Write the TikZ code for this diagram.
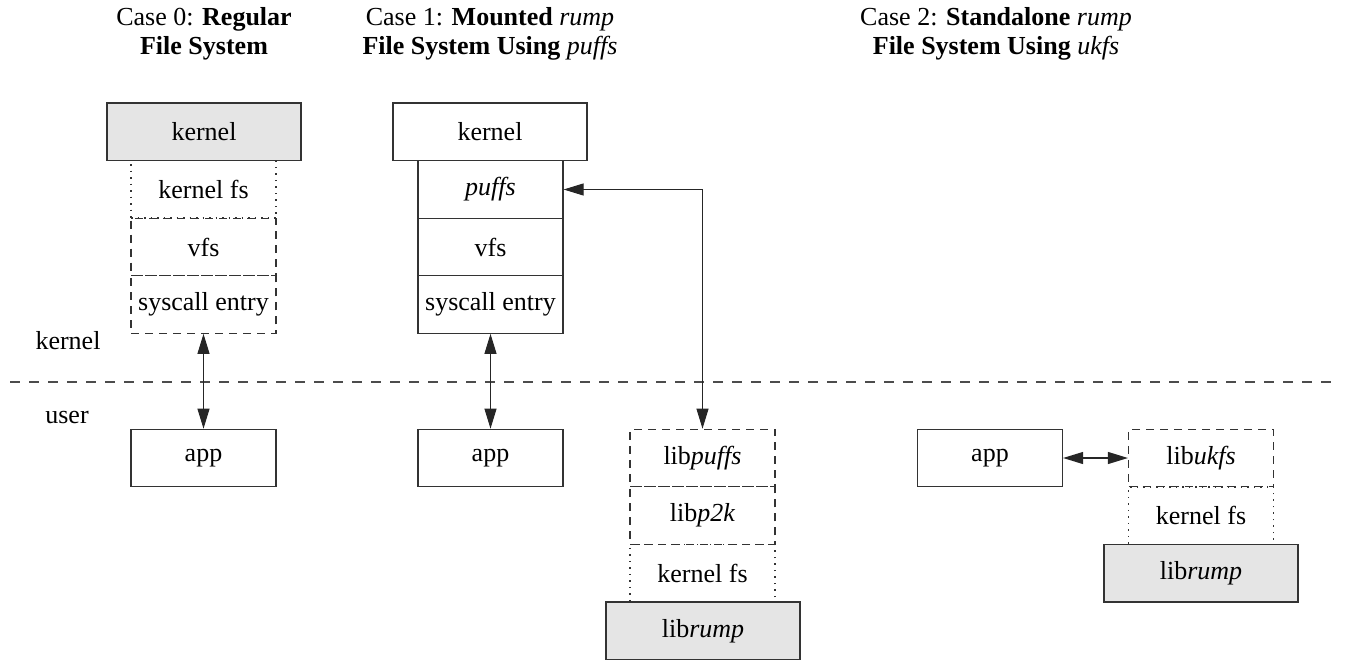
\documentclass[tikz,border=0pt]{standalone}
\usepackage{fontspec}
\setmainfont{Liberation Serif}
\usetikzlibrary{arrows.meta,positioning}

\begin{document}
\begin{tikzpicture}[
  x=1pt, y=-1pt,
  every node/.style={font=\fontsize{26}{29}\selectfont},
  layer/.style={draw=black!80, line width=1.2pt, inner sep=0pt, minimum width=145pt, minimum height=57.5pt, align=center},
  kbox/.style={layer, fill=black!10, minimum width=194pt},
  sbox/.style={layer},
  dbox/.style={layer, dash pattern=on 8pt off 6pt},
  obox/.style={layer, line width=1.5pt, dash pattern=on 1.5pt off 5pt},
  title/.style={align=center, inner sep=0pt},
  arrow/.style={{Triangle[length=20pt,width=12pt]}-{Triangle[length=20pt,width=12pt]}, line width=1.1pt, draw=black!85}
]
\useasboundingbox (0,0) rectangle (1348,660);

% Titles
\node[title] (title0) at (204,34) {Case 0: \textbf{Regular}\\\textbf{File System}};
\node[title] (title1) at (490,34) {Case 1: \textbf{Mounted} \textit{rump}\\\textbf{File System Using} \textit{puffs}};
\node[title] (title2) at (996,34) {Case 2: \textbf{Standalone} \textit{rump}\\\textbf{File System Using} \textit{ukfs}};

% Kernel/user boundary
\coordinate (sepL) at (10,382);
\coordinate (sepR) at (1338,382);
\draw[line width=1.1pt, draw=black!70, dash pattern=on 10pt off 9pt] (sepL) -- (sepR);
\node[inner sep=0pt] (klabel) at (68,341) {kernel};
\node[inner sep=0pt] (ulabel) at (67,417) {user};

% Case 0: regular file system
\node[obox] (kfs0) at (203.5,189.5) {kernel fs};
\node[kbox] (kern0) at (204,131.75) {kernel};
\node[dbox] (vfs0) at (203.5,247) {vfs};
\node[dbox] (sys0) at (203.5,304.5) {syscall entry};
\node[sbox] (app0) at (203.5,458) {app};

% Case 1: mounted rump file system using puffs
\node[sbox, minimum width=194pt] (kern1) at (490,131.75) {kernel};
\node[sbox] (puffs1) at (490.5,189.5) {\textit{puffs}};
\node[sbox] (vfs1) at (490.5,247) {vfs};
\node[sbox] (sys1) at (490.5,304.5) {syscall entry};
\node[sbox] (app1) at (490.5,458) {app};

\node[dbox] (libpuffs1) at (702.5,458) {lib\textit{puffs}};
\node[dbox] (libp2k1) at (702.5,515.5) {lib\textit{p2k}};
\node[obox] (kfs1) at (702.5,573) {kernel fs};
\node[kbox] (rump1) at (703,630.75) {lib\textit{rump}};

% Case 2: standalone rump file system using ukfs
\node[sbox] (app2) at (990,458) {app};
\node[dbox] (libukfs2) at (1201,458) {lib\textit{ukfs}};
\node[obox] (kfs2) at (1201,515.5) {kernel fs};
\node[kbox] (rump2) at (1201,573.25) {lib\textit{rump}};

% Connections
\draw[arrow] (sys0.south) -- (app0.north);
\draw[arrow] (sys1.south) -- (app1.north);
\draw[arrow] (puffs1.east) -| (libpuffs1.north);
\draw[arrow] (app2.east) -- (libukfs2.west);

\end{tikzpicture}
\end{document}
